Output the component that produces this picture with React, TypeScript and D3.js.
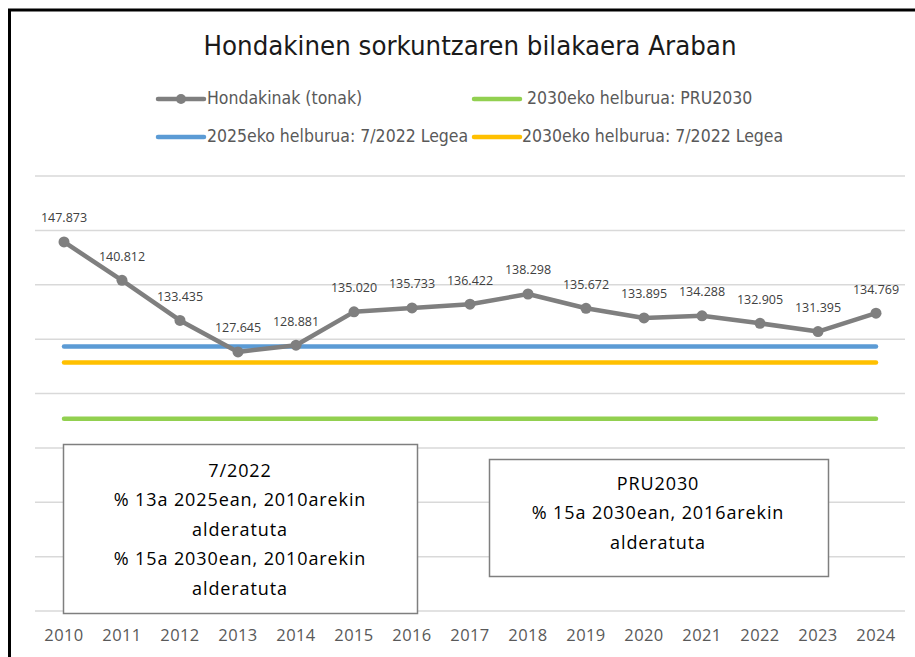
import React from 'react';
import * as d3 from 'd3';

const W = 915;
const H = 657;

const YEARS = ['2010', '2011', '2012', '2013', '2014', '2015', '2016', '2017', '2018', '2019', '2020', '2021', '2022', '2023', '2024'];
const WASTE = [147.873, 140.812, 133.435, 127.645, 128.881, 135.02, 135.733, 136.422, 138.298, 135.672, 133.895, 134.288, 132.905, 131.395, 134.769];
const WASTE_LABELS = ['147.873', '140.812', '133.435', '127.645', '128.881', '135.020', '135.733', '136.422', '138.298', '135.672', '133.895', '134.288', '132.905', '131.395', '134.769'];

// target levels (constant across the whole period)
const TARGET_2025_LAW = 128.65;
const TARGET_2030_LAW = 125.69;
const TARGET_2030_PRU = 115.37;

const Y_TICKS = [80, 90, 100, 110, 120, 130, 140, 150, 160];

const TITLE = 'Hondakinen sorkuntzaren bilakaera Araban';
const LEGEND_NAMES = ['Hondakinak (tonak)', '2030eko helburua: PRU2030', '2025eko helburua: 7/2022 Legea', '2030eko helburua: 7/2022 Legea'];
const BOX_LAW = ['7/2022', '% 13a 2025ean, 2010arekin', 'alderatuta', '% 15a 2030ean, 2010arekin', 'alderatuta'];
const BOX_PRU = ['PRU2030', '% 15a 2030ean, 2016arekin', 'alderatuta'];

const GREY = '#7F7F7F';
const BLUE = '#5B9BD5';
const YELLOW = '#FFC000';
const GREEN = '#92D050';

const LABEL_FONT = '"Open Sans", "Noto Sans", sans-serif';
const NARROW_FONT = '"Liberation Sans Narrow", "DejaVu Sans Condensed", "Liberation Sans", sans-serif';

export default function App() {
  const x = d3.scaleBand<string>().domain(YEARS).range([35, 905]);
  const y = d3.scaleLinear().domain([80, 160]).range([611, 176]);
  const cx = (yr: string) => (x(yr) ?? 0) + x.bandwidth() / 2;

  const line = d3.line<number>()
    .x((_, i) => cx(YEARS[i]))
    .y(d => y(d));

  const x0 = cx(YEARS[0]);
  const x1 = cx(YEARS[YEARS.length - 1]);

  const targets = [
    { v: TARGET_2030_PRU, color: GREEN },
    { v: TARGET_2030_LAW, color: YELLOW },
    { v: TARGET_2025_LAW, color: BLUE },
  ];

  const legend = [
    { name: LEGEND_NAMES[0], color: GREY, marker: true, lx: 158, ly: 99, tx: 207 },
    { name: LEGEND_NAMES[1], color: GREEN, marker: false, lx: 474, ly: 99, tx: 527 },
    { name: LEGEND_NAMES[2], color: BLUE, marker: false, lx: 158, ly: 137, tx: 207 },
    { name: LEGEND_NAMES[3], color: YELLOW, marker: false, lx: 474, ly: 137, tx: 522 },
  ];

  return (
    <svg width={W} height={H} style={{ position: 'absolute', left: 0, top: 0, background: '#fff' }}>
      <rect x={0} y={0} width={W} height={H} fill="#fff" />

      {/* frame, only left and top edges are visible */}
      <path d={`M9.5,${H} V10 H${W}`} fill="none" stroke="#000" strokeWidth={3} />

      <text x={470} y={47} textAnchor="middle" dominantBaseline="middle"
        fontFamily={NARROW_FONT} fontSize={26} textLength={533} lengthAdjust="spacingAndGlyphs"
        fill="#1a1a1a">{TITLE}</text>

      {legend.map(l => (
        <g key={l.name}>
          <line x1={l.lx} x2={l.lx + 46} y1={l.ly} y2={l.ly} stroke={l.color} strokeWidth={4.5} strokeLinecap="round" />
          {l.marker && <circle cx={l.lx + 23} cy={l.ly} r={5} fill={l.color} />}
          <text x={l.tx} y={l.ly} dominantBaseline="middle" fontFamily={NARROW_FONT} fontSize={17.5} fill="#595959">{l.name}</text>
        </g>
      ))}

      {/* gridlines */}
      {Y_TICKS.map(t => (
        <line key={t} x1={35} x2={905} y1={y(t)} y2={y(t)} stroke="#D9D9D9" strokeWidth={1.5} />
      ))}

      {/* targets */}
      {targets.map(t => (
        <line key={t.color} x1={x0} x2={x1} y1={y(t.v)} y2={y(t.v)} stroke={t.color} strokeWidth={4.5} strokeLinecap="round" />
      ))}

      {/* waste series */}
      <path d={line(WASTE) ?? ''} fill="none" stroke={GREY} strokeWidth={4.5} strokeLinejoin="round" />
      {WASTE.map((v, i) => (
        <circle key={YEARS[i]} cx={cx(YEARS[i])} cy={y(v)} r={5.5} fill={GREY} />
      ))}
      {WASTE.map((v, i) => (
        <text key={'l' + YEARS[i]} x={cx(YEARS[i])} y={y(v) - 23} textAnchor="middle" dominantBaseline="middle"
          fontFamily={LABEL_FONT} fontSize={12.5} fill="#404040">{WASTE_LABELS[i]}</text>
      ))}

      {/* x axis labels */}
      {YEARS.map(yr => (
        <text key={'x' + yr} x={cx(yr)} y={637} textAnchor="middle" dominantBaseline="middle"
          fontFamily={LABEL_FONT} fontSize={16.5} letterSpacing={0.4} fill="#595959">{yr}</text>
      ))}

      {/* text boxes */}
      <rect x={63.5} y={444.5} width={354} height={169} fill="#fff" stroke="#7F7F7F" strokeWidth={1.5} />
      {BOX_LAW.map((s, i) => (
        <text key={'a' + i} x={240} y={472 + i * 29.5} textAnchor="middle" dominantBaseline="middle"
          fontFamily={LABEL_FONT} fontSize={18} letterSpacing={0.9} fill="#000">{s}</text>
      ))}
      <rect x={489.5} y={459.5} width={339} height={117} fill="#fff" stroke="#7F7F7F" strokeWidth={1.5} />
      {BOX_PRU.map((s, i) => (
        <text key={'b' + i} x={658} y={485 + i * 29.5} textAnchor="middle" dominantBaseline="middle"
          fontFamily={LABEL_FONT} fontSize={18} letterSpacing={0.9} fill="#000">{s}</text>
      ))}
    </svg>
  );
}
